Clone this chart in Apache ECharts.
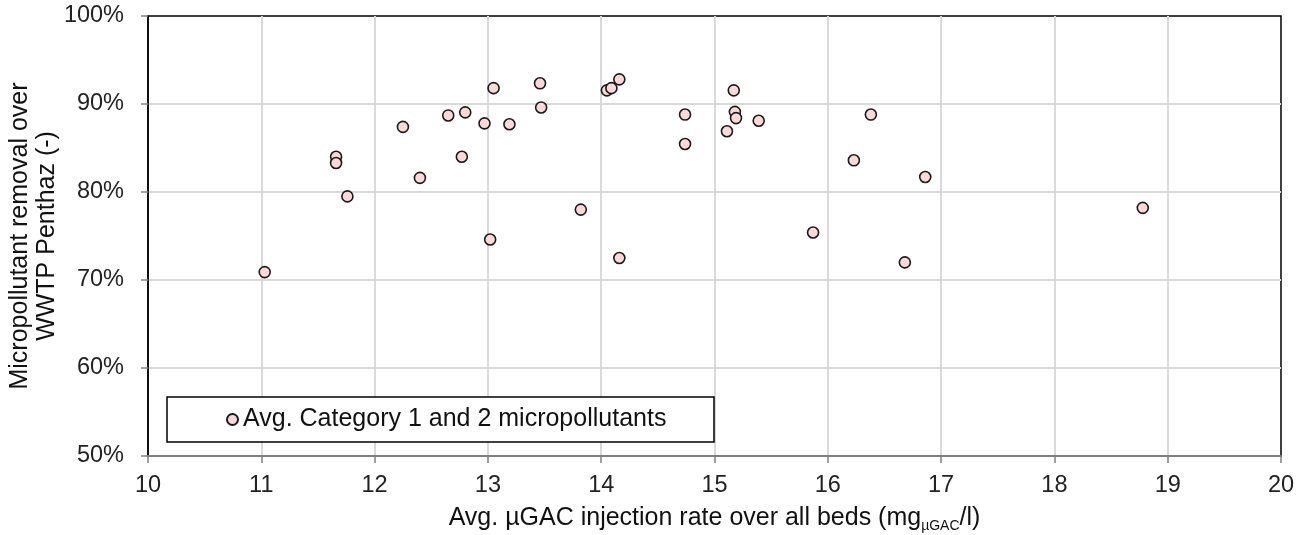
<!DOCTYPE html>
<html>
<head>
<meta charset="utf-8">
<script src="https://cdn.jsdelivr.net/npm/echarts@6/dist/echarts.min.js"></script>
<style>
html,body{margin:0;padding:0;background:#fff;}
#c{width:1310px;height:535px;}
</style>
</head>
<body>
<div id="c"></div>
<script>
// Data
const seriesName = 'Avg. Category 1 and 2 micropollutants';
const injectionRate = [11.03, 11.66, 11.66, 11.76, 12.25, 12.40, 12.65, 12.80, 12.77, 12.97, 13.05, 13.02, 13.19, 13.46, 13.47, 13.82, 14.05, 14.09, 14.16, 14.16, 14.74, 14.74, 15.17, 15.18, 15.19, 15.11, 15.39, 15.87, 16.38, 16.23, 16.86, 16.68, 18.78];
const removalPct = [70.9, 84.0, 83.3, 79.5, 87.4, 81.6, 88.7, 89.05, 84.0, 87.8, 91.8, 74.6, 87.7, 92.35, 89.6, 78.0, 91.55, 91.8, 92.8, 72.5, 88.8, 85.45, 91.55, 89.1, 88.4, 86.9, 88.1, 75.4, 88.8, 83.6, 81.7, 72.0, 78.2];
const xTicks = [10, 20, 1];     // min, max, interval
const yTicks = [50, 100, 10];   // min, max, interval (%)
const xTitle = 'Avg. µGAC injection rate over all beds (mg{sub|µGAC}/l)';
const yTitle = 'Micropollutant removal over\nWWTP Penthaz (-)';

const points = injectionRate.map((x, i) => [x, removalPct[i]]);
const FONT = '"Liberation Sans", Arial, sans-serif';
const chart = echarts.init(document.getElementById('c'), null, {renderer: 'canvas'});
chart.setOption({
  animation: false,
  backgroundColor: '#fff',
  textStyle: {fontFamily: FONT},
  grid: {left: 148, right: 29, top: 16, bottom: 79, show: true, borderColor: '#000', borderWidth: 1.5, backgroundColor: 'transparent', containLabel: false, outerBoundsMode: 'none'},
  legend: {
    left: 167, top: 397,
    orient: 'horizontal',
    padding: [10, 47, 10, 59],
    backgroundColor: '#fff',
    borderColor: '#000', borderWidth: 1.5, borderRadius: 0,
    itemWidth: 11, itemHeight: 11,
    icon: 'circle',
    textStyle: {fontFamily: FONT, fontSize: 25, color: '#111', width: 424, lineHeight: 24},
    data: [seriesName]
  },
  xAxis: {
    type: 'value', min: xTicks[0], max: xTicks[1], interval: xTicks[2],
    name: xTitle, nameLocation: 'middle', nameGap: 47, nameMoveOverlap: false,
    nameTextStyle: {
      fontFamily: FONT, fontSize: 25, color: '#111', lineHeight: 30,
      rich: {sub: {fontFamily: FONT, fontSize: 14, color: '#111', verticalAlign: 'bottom', lineHeight: 30}}
    },
    axisLine: {show: true, onZero: false, lineStyle: {color: '#808080', width: 2}},
    axisTick: {show: true, inside: false, length: 7, lineStyle: {color: '#808080', width: 1.5}},
    axisLabel: {fontFamily: FONT, fontSize: 23.5, color: '#222', margin: 18},
    splitLine: {show: true, showMinLine: false, showMaxLine: false, lineStyle: {color: '#d9d9d9', width: 2}}
  },
  yAxis: {
    type: 'value', min: yTicks[0], max: yTicks[1], interval: yTicks[2],
    name: yTitle, nameLocation: 'middle', nameGap: 87, nameRotate: 90, nameMoveOverlap: false,
    nameTextStyle: {fontFamily: FONT, fontSize: 25, color: '#111', lineHeight: 27, align: 'center'},
    axisLine: {show: true, onZero: false, lineStyle: {color: '#000', width: 1.5}},
    axisTick: {show: true, inside: false, length: 7, lineStyle: {color: '#808080', width: 1.5}},
    axisLabel: {fontFamily: FONT, fontSize: 23.5, color: '#222', margin: 24, formatter: '{value}%'},
    splitLine: {show: true, showMinLine: false, showMaxLine: false, lineStyle: {color: '#d9d9d9', width: 2}}
  },
  series: [{
    name: seriesName,
    type: 'scatter',
    data: points,
    symbol: 'circle',
    symbolSize: 11,
    itemStyle: {color: '#ffd9d9', borderColor: '#1a1a1a', borderWidth: 1.6, opacity: 1}
  }]
});
</script>
</body>
</html>
